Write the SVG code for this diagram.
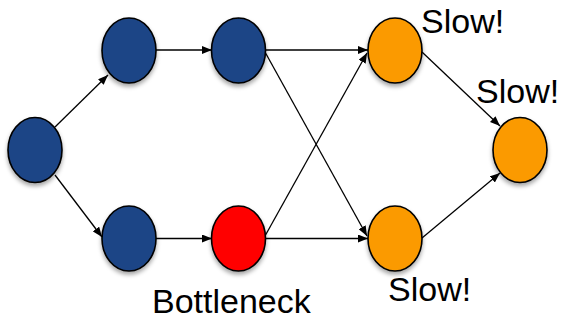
<svg xmlns="http://www.w3.org/2000/svg" width="564" height="321" viewBox="0 0 564 321">
  <style>
    .node { stroke: #000; stroke-width: 1.6; filter: url(#shadow); }
    .blue { fill: #1e4586; }
    .orange { fill: #fb9a00; }
    .red { fill: #ff0000; }
    .edge { stroke: #000; stroke-width: 1.3; fill: none; marker-end: url(#arrow); }
    .label { font-family: "Liberation Sans", Arial, sans-serif; font-size: 34px; fill: #000; }
  </style>
  <defs>
    <marker id="arrow" viewBox="0 0 10 8" refX="10" refY="4" markerWidth="10" markerHeight="8" markerUnits="userSpaceOnUse" orient="auto">
      <path d="M0,0 L10,4 L0,8 Z" fill="#000"/>
    </marker>
    <filter id="shadow" x="-30%" y="-30%" width="160%" height="170%">
      <feDropShadow dx="0" dy="3" stdDeviation="2" flood-color="#000" flood-opacity="0.35"/>
    </filter>
  </defs>
  <rect width="564" height="321" fill="#fff"/>

  <!-- connectors -->
  <g id="edges">
    <line class="edge" x1="55" y1="127" x2="108" y2="75"/>
    <line class="edge" x1="55" y1="175" x2="102" y2="237"/>
    <line class="edge" x1="156" y1="50" x2="212" y2="50"/>
    <line class="edge" x1="156" y1="238.5" x2="212" y2="238.5"/>
    <line class="edge" x1="265" y1="50" x2="368" y2="50"/>
    <line class="edge" x1="265" y1="52" x2="367" y2="236"/>
    <line class="edge" x1="265" y1="236" x2="367" y2="53"/>
    <line class="edge" x1="265" y1="238.5" x2="368" y2="238.5"/>
    <line class="edge" x1="422" y1="52" x2="500" y2="126"/>
    <line class="edge" x1="422" y1="238" x2="500" y2="173"/>
  </g>

  <!-- nodes -->
  <g id="n-source"><ellipse class="node blue" cx="35" cy="150" rx="27" ry="32.5"/></g>
  <g id="n-top1"><ellipse class="node blue" cx="129" cy="50.5" rx="27" ry="32.5"/></g>
  <g id="n-top2"><ellipse class="node blue" cx="238.5" cy="50.5" rx="27" ry="32.5"/></g>
  <g id="n-bot1"><ellipse class="node blue" cx="129" cy="238.5" rx="27" ry="32.5"/></g>
  <g id="n-bottleneck"><ellipse class="node red" cx="238.5" cy="238.5" rx="27" ry="32.5"/></g>
  <g id="n-slow-top"><ellipse class="node orange" cx="395" cy="50.5" rx="27" ry="32.5"/></g>
  <g id="n-slow-bot"><ellipse class="node orange" cx="395" cy="238.5" rx="27" ry="32.5"/></g>
  <g id="n-sink"><ellipse class="node orange" cx="520" cy="150" rx="27" ry="32.5"/></g>

  <!-- labels -->
  <g id="labels">
    <text class="label" x="421" y="33">Slow!</text>
    <text class="label" x="476" y="103">Slow!</text>
    <text class="label" x="388" y="301">Slow!</text>
    <text class="label" x="152" y="313">Bottleneck</text>
  </g>
</svg>
